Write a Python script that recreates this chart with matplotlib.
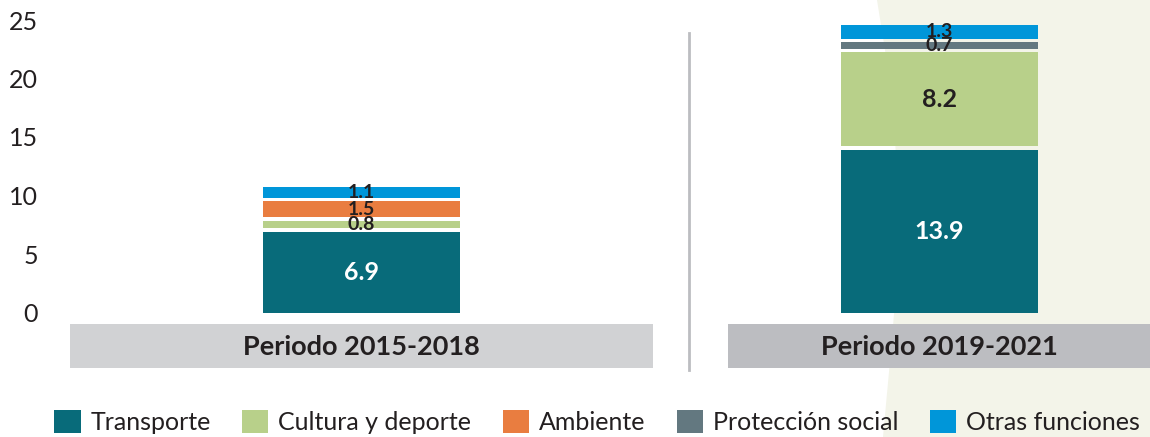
import matplotlib.pyplot as plt
from matplotlib.patches import Patch, Rectangle

plt.rcParams['font.family'] = ['Lato', 'DejaVu Sans']

# datos
periodos = ['Periodo 2015-2018', 'Periodo 2019-2021']
categorias = ['Transporte', 'Cultura y deporte', 'Ambiente', 'Protección social', 'Otras funciones']
colores = ['#086b7a', '#b8d08a', '#e97d40', '#637880', '#0096d9']

transporte = [6.9, 13.9]
cultura = [0.8, 8.2]
ambiente = [1.5, 0.0]
proteccion = [0.0, 0.7]
otras = [1.1, 1.3]
series = [transporte, cultura, ambiente, proteccion, otras]

W, H = 1150, 437
fig = plt.figure(figsize=(W / 100, H / 100), dpi=100)

# fondo con la franja verde clara
bg = fig.add_axes([0, 0, 1, 1], zorder=-1)
bg.set_xlim(0, W)
bg.set_ylim(H, 0)
bg.axis('off')
bx = [877, 885, 893, 897, 898, 896, 891, 883, W, W]
by = [0, 50, 110, 170, 230, 290, 350, H, H, 0]
bg.fill(bx, by, color='#f3f4e9', lw=0)

# cajas de periodo y separador
bg.add_patch(Rectangle((70, 324), 583, 44, color='#d1d2d4', lw=0))
bg.add_patch(Rectangle((728, 324), 422, 44, color='#bcbdc1', lw=0))
bg.plot([689, 689], [33, 370], color='#bcbdc1', lw=2)

# barras apiladas
escala = 11.7
ax = fig.add_axes([70 / W, (H - 312.5) / H, 1080 / W, 26.5 * escala / H])
ax.set_facecolor('none')
x = [0, 1]
ancho = 0.341
hueco = 0.3
acum = [0.0, 0.0]
for i, serie in enumerate(series):
    for j, v in enumerate(serie):
        if v == 0:
            continue
        g = hueco if acum[j] > 0 else 0
        alto = v - g / 2 if g else v
        ax.bar(x[j], alto, bottom=acum[j] + g, width=ancho, color=colores[i], lw=0)
        yc = acum[j] + g + alto / 2
        if v >= 3:
            col = 'white' if i == 0 else '#231f20'
            ax.text(x[j], yc, f'{v:.1f}', ha='center', va='center', fontsize=18,
                    fontweight='bold', color=col)
        else:
            ax.text(x[j], yc, f'{v:.1f}', ha='center', va='center', fontsize=14,
                    fontweight='bold', color='#231f20')
        acum[j] += g + alto

ax.set_xlim(-0.5043, 1.3642)
ax.set_ylim(0, 26.5)
ax.set_xticks([])
ax.set_yticks(range(0, 26, 5))
ax.tick_params(axis='y', length=0, pad=23, labelsize=18, labelcolor='#231f20')
for s in ax.spines.values():
    s.set_visible(False)

for j, p in enumerate(periodos):
    cx = 361.5 + j * 578
    bg.text(cx, 347, p, ha='center', va='center', fontsize=19.5, fontweight='bold', color='#231f20')

handles = [Patch(facecolor=c, label=l) for c, l in zip(colores, categorias)]
fig.legend(handles=handles, loc='center', bbox_to_anchor=(597 / W, 1 - 422 / H), ncol=5,
           frameon=False, fontsize=18, handlelength=1.05, handleheight=1.05,
           handletextpad=0.4, columnspacing=1.25, labelcolor='#231f20')

fig.savefig('out.png', dpi=100)
